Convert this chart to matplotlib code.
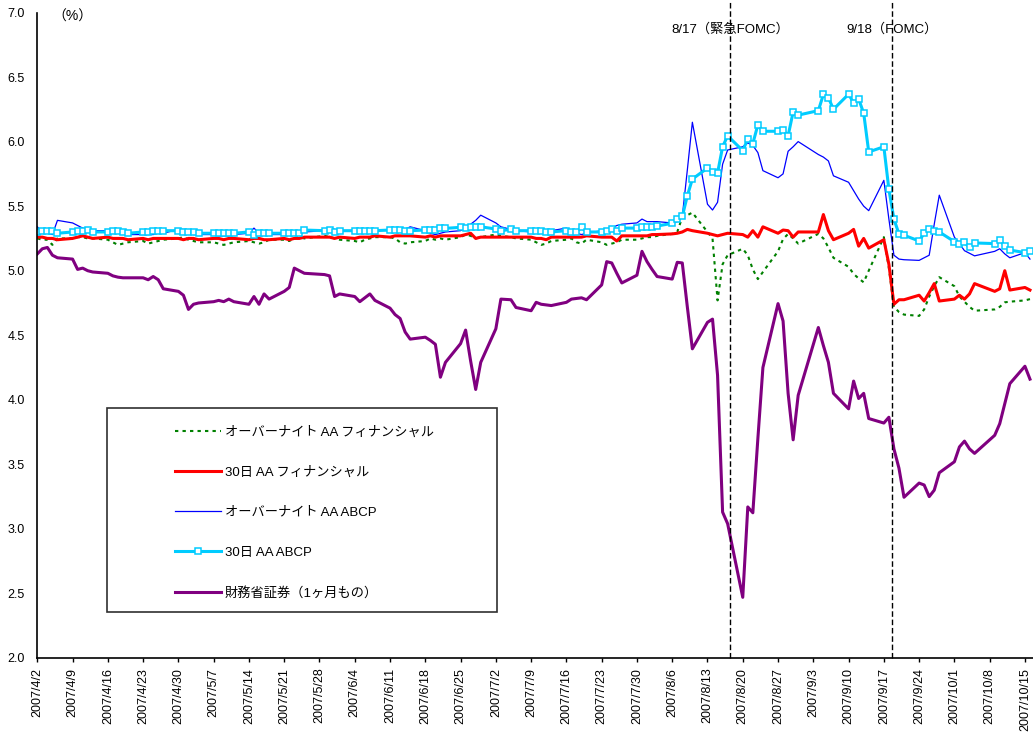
import matplotlib
matplotlib.use("Agg")
import matplotlib.pyplot as plt
import pandas as pd
from matplotlib.patches import Rectangle

plt.rcParams['font.family'] = ['Liberation Sans', 'Noto Sans CJK JP', 'DejaVu Sans']

# business days, US market holidays removed
holidays = ['2007-05-28', '2007-07-04', '2007-09-03', '2007-10-08']
dates = pd.bdate_range('2007-04-02', '2007-10-16')
dates = dates[~dates.isin(pd.to_datetime(holidays))]

labels = ['オーバーナイト AA フィナンシャル', '30日 AA フィナンシャル',
          'オーバーナイト AA ABCP', '30日 AA ABCP', '財務省証券（1ヶ月もの）']
events = ['2007-08-17', '2007-09-18']
event_labels = ['8/17（緊急FOMC）', '9/18（FOMC）']

# one row per week
on_fin = [
    5.25, 5.24, 5.24, 5.20, 5.25,
    5.25, 5.26, 5.26, 5.25, 5.25,
    5.24, 5.22, 5.20, 5.21, 5.22,
    5.23, 5.21, 5.22, 5.23, 5.24,
    5.25, 5.26, 5.24, 5.23, 5.22,
    5.22, 5.21, 5.20, 5.21, 5.22,
    5.23, 5.22, 5.21, 5.22, 5.24,
    5.24, 5.23, 5.25, 5.26, 5.25,
    5.27, 5.26, 5.25, 5.24,
    5.23, 5.22, 5.24, 5.25, 5.26,
    5.26, 5.25, 5.22, 5.21, 5.22,
    5.23, 5.25, 5.24, 5.25, 5.24,
    5.26, 5.28, 5.27, 5.25, 5.26,
    5.28, 5.27, 5.26, 5.25,
    5.24, 5.22, 5.20, 5.21, 5.23,
    5.24, 5.25, 5.22, 5.21, 5.24,
    5.22, 5.20, 5.21, 5.22, 5.24,
    5.24, 5.25, 5.26, 5.26, 5.27,
    5.285, 5.30, 5.415, 5.43, 5.45,
    5.30, 5.25, 4.77, 5.05, 5.12,
    5.17, 5.12, 5.01, 4.935, 4.99,
    5.15, 5.245, 5.285, 5.25, 5.21,
    5.285, 5.25, 5.18, 5.10,
    5.03, 4.975, 4.94, 4.91, 5.00,
    5.26, 5.02, 4.72, 4.68, 4.66,
    4.65, 4.70, 4.80, 4.88, 4.95,
    4.88, 4.80, 4.76, 4.72, 4.69,
    4.70, 4.72, 4.755, 4.76,
    4.77, 4.78,
]

d30_fin = [
    5.26, 5.26, 5.25, 5.25, 5.24,
    5.25, 5.26, 5.27, 5.26, 5.25,
    5.26, 5.25, 5.25, 5.25, 5.24,
    5.25, 5.24, 5.25, 5.25, 5.25,
    5.25, 5.24, 5.25, 5.25, 5.24,
    5.25, 5.25, 5.24, 5.25, 5.25,
    5.24, 5.25, 5.25, 5.24, 5.24,
    5.25, 5.24, 5.25, 5.25, 5.26,
    5.26, 5.26, 5.25, 5.26,
    5.25, 5.26, 5.26, 5.26, 5.27,
    5.26, 5.27, 5.27, 5.27, 5.27,
    5.26, 5.27, 5.26, 5.27, 5.27,
    5.27, 5.28, 5.29, 5.25, 5.26,
    5.26, 5.26, 5.26, 5.26,
    5.26, 5.25, 5.25, 5.24, 5.26,
    5.26, 5.26, 5.26, 5.26, 5.27,
    5.26, 5.26, 5.26, 5.23, 5.27,
    5.27, 5.27, 5.27, 5.28, 5.28,
    5.285, 5.29, 5.30, 5.32, 5.31,
    5.29, 5.28, 5.27, 5.28, 5.29,
    5.28, 5.26, 5.31, 5.26, 5.34,
    5.29, 5.315, 5.31, 5.26, 5.30,
    5.30, 5.435, 5.31, 5.24,
    5.29, 5.32, 5.19, 5.25, 5.175,
    5.24, 5.05, 4.74, 4.775, 4.775,
    4.81, 4.765, 4.83, 4.90, 4.765,
    4.78, 4.81, 4.78, 4.82, 4.90,
    4.84, 4.86, 5.00, 4.85,
    4.87, 4.85,
]

on_abcp = [
    5.34, 5.30, 5.29, 5.28, 5.39,
    5.37, 5.35, 5.33, 5.32, 5.31,
    5.31, 5.31, 5.32, 5.29, 5.28,
    5.28, 5.28, 5.28, 5.29, 5.29,
    5.32, 5.32, 5.29, 5.28, 5.28,
    5.28, 5.27, 5.27, 5.27, 5.28,
    5.29, 5.33, 5.29, 5.28, 5.28,
    5.28, 5.28, 5.29, 5.30, 5.30,
    5.31, 5.33, 5.32, 5.31,
    5.31, 5.30, 5.30, 5.31, 5.32,
    5.31, 5.30, 5.31, 5.32, 5.34,
    5.31, 5.29, 5.28, 5.29, 5.30,
    5.31, 5.33, 5.36, 5.39, 5.43,
    5.37, 5.34, 5.32, 5.31,
    5.30, 5.31, 5.30, 5.30, 5.31,
    5.33, 5.31, 5.29, 5.28, 5.29,
    5.31, 5.32, 5.33, 5.35, 5.36,
    5.37, 5.40, 5.38, 5.38, 5.38,
    5.37, 5.38, 5.42, 5.78, 6.15,
    5.515, 5.47, 5.53, 5.825, 5.935,
    5.96, 5.99, 5.97, 5.915, 5.775,
    5.72, 5.75, 5.925, 5.96, 6.00,
    5.90, 5.88, 5.85, 5.735,
    5.685, 5.62, 5.555, 5.50, 5.465,
    5.70, 5.40, 5.12, 5.09, 5.085,
    5.08, 5.10, 5.12, 5.36, 5.585,
    5.26, 5.21, 5.155, 5.135, 5.115,
    5.15, 5.17, 5.13, 5.10,
    5.14, 5.09,
]

d30_abcp = [
    5.30, 5.31, 5.31, 5.31, 5.29,
    5.30, 5.31, 5.31, 5.315, 5.30,
    5.30, 5.31, 5.31, 5.30, 5.29,
    5.30, 5.30, 5.31, 5.31, 5.31,
    5.31, 5.30, 5.30, 5.30, 5.29,
    5.29, 5.29, 5.29, 5.29, 5.29,
    5.30, 5.28, 5.29, 5.29, 5.29,
    5.29, 5.29, 5.29, 5.29, 5.315,
    5.31, 5.315, 5.30, 5.31,
    5.31, 5.31, 5.31, 5.31, 5.31,
    5.315, 5.315, 5.315, 5.31, 5.31,
    5.315, 5.315, 5.315, 5.328, 5.328,
    5.336, 5.33, 5.336, 5.34, 5.34,
    5.323, 5.31, 5.32, 5.31,
    5.31, 5.31, 5.31, 5.30, 5.30,
    5.31, 5.30, 5.30, 5.336, 5.30,
    5.30, 5.31, 5.32, 5.31, 5.33,
    5.33, 5.336, 5.336, 5.336, 5.346,
    5.367, 5.40, 5.42, 5.58, 5.71,
    5.795, 5.766, 5.756, 5.96, 6.045,
    5.93, 6.02, 5.985, 6.13, 6.08,
    6.08, 6.09, 6.045, 6.23, 6.205,
    6.24, 6.365, 6.34, 6.25,
    6.367, 6.30, 6.33, 6.22, 5.92,
    5.96, 5.63, 5.40, 5.285, 5.275,
    5.23, 5.29, 5.32, 5.31, 5.30,
    5.225, 5.21, 5.22, 5.18, 5.215,
    5.21, 5.24, 5.19, 5.16,
    5.14, 5.155,
]

tbill = [
    5.13, 5.17, 5.18, 5.12, 5.10,
    5.09, 5.01, 5.02, 5.00, 4.99,
    4.98, 4.96, 4.95, 4.945, 4.945,
    4.945, 4.93, 4.955, 4.93, 4.86,
    4.84, 4.81, 4.70, 4.74, 4.75,
    4.76, 4.77, 4.76, 4.78, 4.76,
    4.74, 4.80, 4.74, 4.82, 4.78,
    4.84, 4.87, 5.02, 5.00, 4.98,
    4.97, 4.96, 4.80, 4.82,
    4.80, 4.76, 4.79, 4.82, 4.77,
    4.71, 4.66, 4.63, 4.525, 4.47,
    4.485, 4.46, 4.43, 4.175, 4.29,
    4.435, 4.54, 4.30, 4.08, 4.29,
    4.55, 4.78, 4.775, 4.715,
    4.69, 4.755, 4.74, 4.735, 4.73,
    4.755, 4.78, 4.785, 4.79, 4.775,
    4.89, 5.07, 5.06, 4.98, 4.905,
    4.965, 5.15, 5.07, 5.01, 4.955,
    4.935, 5.065, 5.06, 4.72, 4.395,
    4.60, 4.625, 4.19, 3.13, 3.04,
    2.47, 3.17, 3.125, 3.70, 4.25,
    4.745, 4.61, 4.05, 3.69, 4.035,
    4.56, 4.42, 4.29, 4.05,
    3.93, 4.145, 4.01, 4.05, 3.855,
    3.82, 3.865, 3.62, 3.47, 3.245,
    3.355, 3.34, 3.25, 3.30, 3.435,
    3.52, 3.635, 3.68, 3.62, 3.585,
    3.725, 3.815, 3.97, 4.125,
    4.26, 4.16,
]

W, H = 1033, 742
fig = plt.figure(figsize=(W / 100, H / 100), dpi=100)
ax = fig.add_axes([37.3 / W, 1 - 658 / H, (W - 37.3) / W, (658 - 12.5) / H])

lines = []
lines += ax.plot(dates, on_fin, color='#008000', lw=1.5, ls=(0, (1.6, 2.0)))
lines += ax.plot(dates, d30_fin, color='#ff0000', lw=2.2)
lines += ax.plot(dates, on_abcp, color='#0000ff', lw=0.9)
lines += ax.plot(dates, d30_abcp, color='#00ccff', lw=2.2, marker='s', ms=5,
                 mfc='white', mec='#00ccff', mew=1.1)
lines += ax.plot(dates, tbill, color='#800080', lw=2.2)

# FOMC markers
for d, txt in zip(events, event_labels):
    x = pd.Timestamp(d) + pd.Timedelta(hours=13)
    ax.vlines(x, 2.0, 7.1, color='black', lw=1.0, ls=(0, (4, 2)), clip_on=False)
    ax.text(x, 6.865, txt, ha='center', va='center', fontsize=9.5)

x0 = pd.Timestamp('2007-04-02')
ax.set_xlim(x0, x0 + pd.Timedelta(days=197.6))
ax.set_ylim(2.0, 7.0)
ax.set_yticks([2.0, 2.5, 3.0, 3.5, 4.0, 4.5, 5.0, 5.5, 6.0, 6.5, 7.0])
ax.set_yticklabels([f'{v:.1f}' for v in ax.get_yticks()], fontsize=9)

mondays = pd.date_range('2007-04-02', '2007-10-15', freq='7D')
ax.set_xticks(mondays)
ax.set_xticklabels([f'{d.year}/{d.month}/{d.day}' for d in mondays],
                   rotation=90, fontsize=9)
ax.tick_params(axis='x', direction='out', length=3, width=1, pad=4)
ax.tick_params(axis='y', length=0, pad=9)

for s in ['top', 'right']:
    ax.spines[s].set_visible(False)
for s in ['left', 'bottom']:
    ax.spines[s].set_linewidth(1.2)

fig.text(72 / W, 1 - 17 / H, '（%）', ha='center', va='center', fontsize=10)

# legend box
fig.patches.append(Rectangle((107 / W, 1 - 612 / H), (497 - 107) / W, (612 - 408) / H,
                             transform=fig.transFigure, fill=False,
                             ec='#303030', lw=1.2))
ax.legend(lines, labels, loc='upper left', bbox_to_anchor=(168 / W, 1 - 420 / H),
          bbox_transform=fig.transFigure, frameon=False, borderpad=0,
          handlelength=3.5, handletextpad=0.3, labelspacing=2.1, fontsize=9.5)

fig.savefig('out.png', dpi=100)
